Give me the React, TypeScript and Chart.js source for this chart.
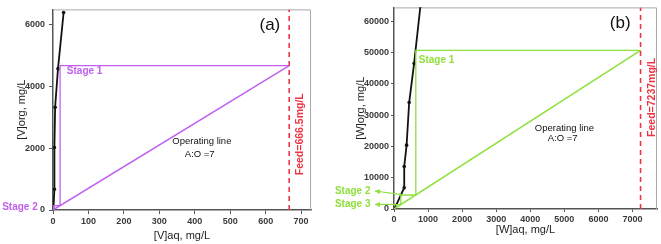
import { useEffect, useRef } from "react";
import { Chart, registerables } from "chart.js";
Chart.register(...registerables);

// ---------- Panel (a): vanadium ----------
const aEquilibriumX = [1, 4, 4, 6, 14, 30];
const aEquilibriumY = [0, 670, 2020, 3320, 4560, 6380];
const aOperatingX = [0, 666.5];
const aOperatingY = [0, 4665];
const aStageX = [666.5, 20, 20, 2, 2];
const aStageY = [4665, 4665, 140, 140, 14];
const aFeed = 666.5;
const aXTicks = [0, 100, 200, 300, 400, 500, 600, 700];
const aYTicks = [0, 2000, 4000, 6000];

// ---------- Panel (b): tungsten ----------
const bEquilibriumX = [20, 300, 300, 370, 445, 590, 775];
const bEquilibriumY = [200, 6800, 13600, 20400, 34000, 46500, 64800];
const bOperatingX = [0, 7237];
const bOperatingY = [0, 50659];
const bStageX = [7237, 640, 640, 200, 200, 70, 70];
const bStageY = [50659, 50659, 4480, 4480, 1400, 1400, 490];
const bFeed = 7237;
const bXTicks = [0, 1000, 2000, 3000, 4000, 5000, 6000, 7000];
const bYTicks = [0, 10000, 20000, 30000, 40000, 50000, 60000];

const FAMILY = "'Liberation Sans', Arial, sans-serif";
const PURPLE = "#c060f0";
const GREEN = "#8ee03c";
const RED = "#ee3344";

type Note = { text: string; x: number; y: number; color: string; font: string; align?: CanvasTextAlign; rotate?: boolean };
type Arrow = { x1: number; y1: number; x2: number; y2: number; color: string };

const pts = (xs: number[], ys: number[]) => xs.map((x, i) => ({ x, y: ys[i] }));

function notesPlugin(notes: Note[], arrows: Arrow[]) {
  return {
    id: "notes",
    beforeDatasetsDraw(chart: any) {
      const { ctx, chartArea: a } = chart;
      ctx.save();
      ctx.strokeStyle = "#a8a8a8";
      ctx.lineWidth = 1;
      ctx.beginPath();
      ctx.moveTo(a.left, a.top + 0.5);
      ctx.lineTo(a.right - 0.5, a.top + 0.5);
      ctx.lineTo(a.right - 0.5, a.bottom);
      ctx.stroke();
      ctx.restore();
    },
    afterDraw(chart: any) {
      const { ctx } = chart;
      const xs = chart.scales.x;
      const ys = chart.scales.y;
      ctx.save();
      for (const ar of arrows) {
        const x1 = xs.getPixelForValue(ar.x1), y1 = ys.getPixelForValue(ar.y1);
        const x2 = xs.getPixelForValue(ar.x2), y2 = ys.getPixelForValue(ar.y2);
        ctx.strokeStyle = ar.color;
        ctx.fillStyle = ar.color;
        ctx.lineWidth = 1.2;
        ctx.beginPath();
        ctx.moveTo(x1, y1);
        ctx.lineTo(x2, y2);
        ctx.stroke();
        const ang = Math.atan2(y2 - y1, x2 - x1);
        const L = 5, W = 2.5;
        ctx.beginPath();
        ctx.moveTo(x2, y2);
        ctx.lineTo(x2 - L * Math.cos(ang) + W * Math.sin(ang), y2 - L * Math.sin(ang) - W * Math.cos(ang));
        ctx.lineTo(x2 - L * Math.cos(ang) - W * Math.sin(ang), y2 - L * Math.sin(ang) + W * Math.cos(ang));
        ctx.closePath();
        ctx.fill();
      }
      for (const n of notes) {
        const px = xs.getPixelForValue(n.x), py = ys.getPixelForValue(n.y);
        ctx.font = n.font;
        ctx.fillStyle = n.color;
        ctx.textAlign = n.align || "center";
        ctx.textBaseline = "middle";
        if (n.rotate) {
          ctx.save();
          ctx.translate(px, py);
          ctx.rotate(-Math.PI / 2);
          ctx.fillText(n.text, 0, 0);
          ctx.restore();
        } else {
          ctx.fillText(n.text, px, py);
        }
      }
      ctx.restore();
    },
  };
}

type PanelCfg = {
  eqX: number[]; eqY: number[]; opX: number[]; opY: number[]; stX: number[]; stY: number[];
  feed: number; xTicks: number[]; yTicks: number[]; xMax: number; yMax: number;
  color: string; xTitle: string; yTitle: string;
  yAxisWidth: number; xAxisHeight: number; padTop: number; padRight: number;
  tickLen: number; xTickPad: number; yTickPad: number; xTitlePad: number; yTitlePad: number;
  notes: Note[]; arrows: Arrow[];
};

function makeChart(canvas: HTMLCanvasElement, c: PanelCfg) {
  const tickFont = { family: FAMILY, size: 9, weight: "bold" as const };
  const titleFont = { family: FAMILY, size: 11 };
  return new Chart(canvas, {
    type: "scatter",
    data: {
      datasets: [
        {
          data: [{ x: c.feed, y: 0 }, { x: c.feed, y: c.yMax }],
          showLine: true, borderColor: RED, borderWidth: 1.6, borderDash: [5, 4], pointRadius: 0,
        },
        {
          data: pts(c.opX, c.opY),
          showLine: true, borderColor: c.color, borderWidth: 1.5, pointRadius: 0,
        },
        {
          data: pts(c.stX, c.stY),
          showLine: true, borderColor: c.color, borderWidth: 1.3, pointRadius: 0,
        },
        {
          data: pts(c.eqX, c.eqY),
          showLine: true, borderColor: "#111", borderWidth: 1.8, pointRadius: 1.8,
          pointBackgroundColor: "#111", pointBorderWidth: 0,
        },
      ],
    },
    options: {
      responsive: false,
      animation: false,
      layout: { padding: { top: c.padTop, right: c.padRight, left: 0, bottom: 0 } },
      plugins: { legend: { display: false }, tooltip: { enabled: false } },
      scales: {
        x: {
          type: "linear",
          min: 0,
          max: c.xMax,
          afterFit: (s: any) => { s.height = c.xAxisHeight; },
          afterBuildTicks: (s: any) => { s.ticks = c.xTicks.map((v) => ({ value: v })); },
          grid: { drawOnChartArea: false, tickLength: c.tickLen, color: "#555", lineWidth: 1 },
          border: { color: "#555", width: 1.5 },
          ticks: { font: tickFont, color: "#3a3a3a", padding: c.xTickPad, maxRotation: 0, autoSkip: false, callback: (v: any) => String(v) },
          title: { display: true, text: c.xTitle, font: titleFont, color: "#222", padding: { top: 0, bottom: c.xTitlePad } },
        },
        y: {
          type: "linear",
          min: 0,
          max: c.yMax,
          afterFit: (s: any) => { s.width = c.yAxisWidth; },
          afterBuildTicks: (s: any) => { s.ticks = c.yTicks.map((v) => ({ value: v })); },
          grid: { drawOnChartArea: false, tickLength: c.tickLen, color: "#555", lineWidth: 1 },
          border: { color: "#555", width: 1.5 },
          ticks: { font: tickFont, color: "#3a3a3a", padding: c.yTickPad, autoSkip: false, callback: (v: any) => String(v) },
          title: { display: true, text: c.yTitle, font: titleFont, color: "#222", padding: { top: c.yTitlePad, bottom: 0 } },
        },
      },
    },
    plugins: [notesPlugin(c.notes, c.arrows)],
  } as any);
}

const noteFont = (size: number, bold = false) => `${bold ? "bold " : ""}${size}px ${FAMILY}`;

export default function App() {
  const refA = useRef<HTMLCanvasElement>(null);
  const refB = useRef<HTMLCanvasElement>(null);

  useEffect(() => {
    const chartA = makeChart(refA.current!, {
      eqX: aEquilibriumX, eqY: aEquilibriumY, opX: aOperatingX, opY: aOperatingY,
      stX: aStageX, stY: aStageY, feed: aFeed, xTicks: aXTicks, yTicks: aYTicks,
      xMax: 728, yMax: 6480, color: PURPLE,
      xTitle: "[V]aq, mg/L", yTitle: "[V]org, mg/L",
      yAxisWidth: 53, xAxisHeight: 34, padTop: 4, padRight: 19,
      tickLen: 4, xTickPad: 2, yTickPad: 4, xTitlePad: 1.7, yTitlePad: 15.7,
      notes: [
        { text: "(a)", x: 612, y: 5970, color: "#111", font: noteFont(17) },
        { text: "Stage 1", x: 39, y: 4495, color: PURPLE, font: noteFont(10, true), align: "left" },
        { text: "Stage 2", x: -43, y: 85, color: PURPLE, font: noteFont(10, true), align: "right" },
        { text: "Operating line", x: 420, y: 2217, color: "#111", font: noteFont(9.5) },
        { text: "A:O =7", x: 414, y: 1808, color: "#111", font: noteFont(9.5) },
        { text: "Feed=666.5mg/L", x: 697, y: 2447, color: RED, font: noteFont(10.5, true), rotate: true },
      ],
      arrows: [],
    });
    const chartB = makeChart(refB.current!, {
      eqX: bEquilibriumX, eqY: bEquilibriumY, opX: bOperatingX, opY: bOperatingY,
      stX: bStageX, stY: bStageY, feed: bFeed, xTicks: bXTicks, yTicks: bYTicks,
      xMax: 7720, yMax: 64400, color: GREEN,
      xTitle: "[W]aq, mg/L", yTitle: "[W]org, mg/L",
      yAxisWidth: 64, xAxisHeight: 35, padTop: 4, padRight: 2,
      tickLen: 3, xTickPad: 2, yTickPad: 2, xTitlePad: 7.4, yTitlePad: 24.7,
      notes: [
        { text: "(b)", x: 6641, y: 59380, color: "#111", font: noteFont(17) },
        { text: "Stage 1", x: 728, y: 47440, color: GREEN, font: noteFont(10, true), align: "left" },
        { text: "Stage 2", x: -690, y: 5750, color: GREEN, font: noteFont(10, true), align: "right" },
        { text: "Stage 3", x: -690, y: 1570, color: GREEN, font: noteFont(10, true), align: "right" },
        { text: "Operating line", x: 5001, y: 25670, color: "#111", font: noteFont(9.5) },
        { text: "A:O =7", x: 4950, y: 22530, color: "#111", font: noteFont(9.5) },
        { text: "Feed=7237mg/L", x: 7570, y: 35660, color: RED, font: noteFont(10.5, true), rotate: true },
      ],
      arrows: [
        { x1: 224, y1: 4620, x2: -560, y2: 5750, color: GREEN },
        { x1: 40, y1: 1475, x2: -560, y2: 1475, color: GREEN },
      ],
    });
    return () => {
      chartA.destroy();
      chartB.destroy();
    };
  }, []);

  return (
    <div style={{ position: "fixed", left: 0, top: 0, width: 661, height: 244, background: "#fff" }}>
      <canvas ref={refA} width={330} height={244} style={{ position: "absolute", left: 0, top: 0 }} />
      <canvas ref={refB} width={331} height={244} style={{ position: "absolute", left: 330, top: 0 }} />
    </div>
  );
}
